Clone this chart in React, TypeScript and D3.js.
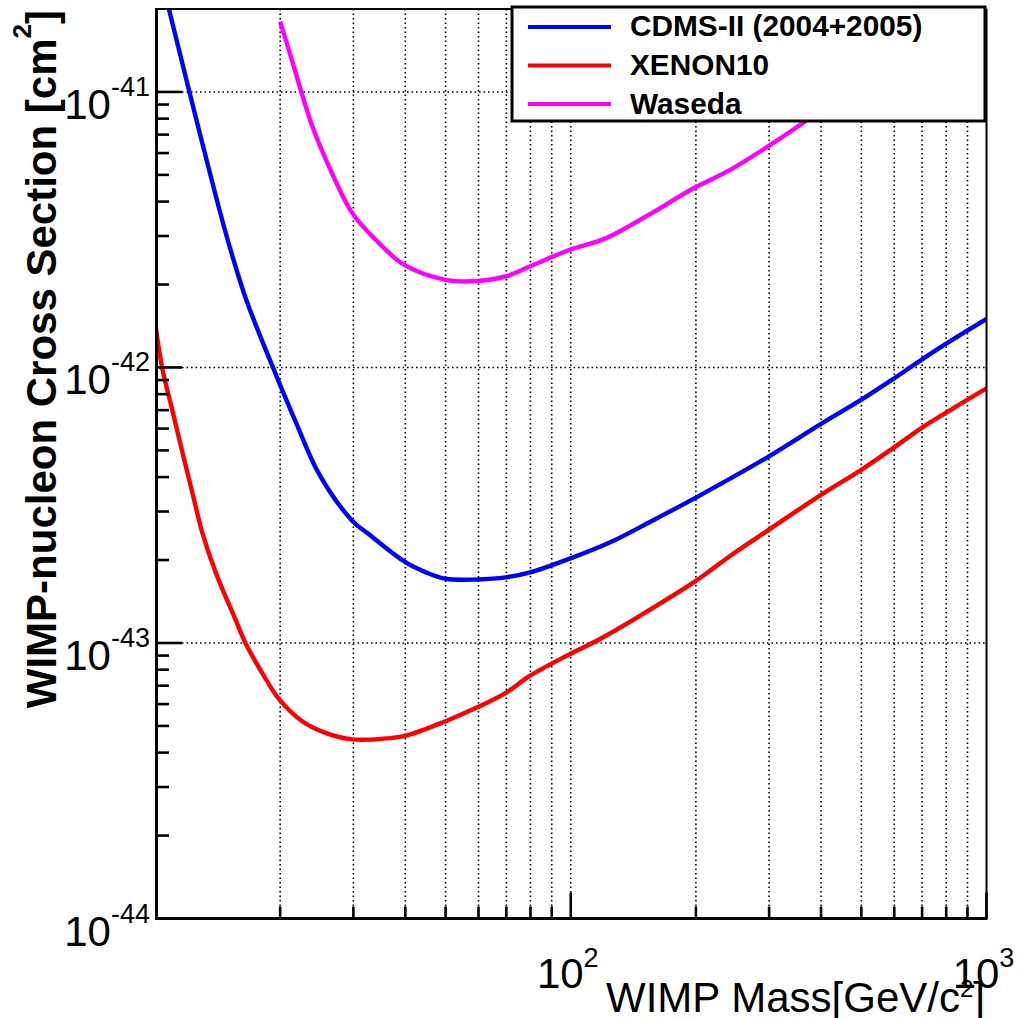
import React from "react";
import * as d3 from "d3";

// WIMP mass [GeV/c^2] and cross section [cm^2]
const cdmsMass = [10.5, 10.8, 12.1, 14.1, 15.2, 16.6, 19.6, 21.9, 24.8, 29.8, 32.7, 40.1, 45, 50, 59.5, 69.8, 79.4, 99.1, 126, 160, 200, 300, 400, 500, 600, 700, 800, 1000];
const cdmsSigma = [2.35e-41, 2.0e-41, 1.0e-41, 4.03e-42, 2.67e-42, 1.75e-42, 9.3e-43, 6.24e-43, 4.11e-43, 2.78e-43, 2.48e-43, 1.96e-43, 1.8e-43, 1.71e-43, 1.7e-43, 1.73e-43, 1.8e-43, 2.02e-43, 2.34e-43, 2.82e-43, 3.37e-43, 4.76e-43, 6.24e-43, 7.64e-43, 9.14e-43, 1.07e-42, 1.22e-42, 1.5e-42];

const xenonMass = [10, 10.4, 11.0, 11.6, 12.3, 13.0, 14.0, 15.6, 16.5, 18.1, 19.9, 22.6, 25.7, 29.8, 35.2, 40.1, 50, 59.6, 69.8, 79.4, 99.1, 117, 146, 200, 245, 300, 400, 500, 600, 700, 800, 1000];
const xenonSigma = [1.47e-42, 1.0e-42, 7.03e-43, 5.03e-43, 3.51e-43, 2.51e-43, 1.8e-43, 1.22e-43, 1.0e-43, 7.79e-44, 6.24e-44, 5.2e-44, 4.72e-44, 4.47e-44, 4.49e-44, 4.61e-44, 5.2e-44, 5.84e-44, 6.59e-44, 7.57e-44, 9.08e-44, 1.03e-43, 1.25e-43, 1.68e-43, 2.1e-43, 2.58e-43, 3.45e-43, 4.25e-43, 5.13e-43, 6.05e-43, 6.86e-43, 8.4e-43];

const wasedaMass = [20, 21.2, 22.4, 23.9, 26.2, 29.8, 34, 39.7, 50, 60, 69.8, 80, 99.1, 117, 126, 157, 198, 240, 300, 354, 400];
const wasedaSigma = [1.8e-41, 1.35e-41, 1.02e-41, 7.5e-42, 5.37e-42, 3.64e-42, 2.9e-42, 2.36e-42, 2.08e-42, 2.06e-42, 2.14e-42, 2.33e-42, 2.67e-42, 2.88e-42, 3.02e-42, 3.64e-42, 4.48e-42, 5.18e-42, 6.38e-42, 7.54e-42, 8.6e-42];

const seriesNames = ["CDMS-II (2004+2005)", "XENON10", "Waseda"];
const seriesColors = ["#0000ff", "#ff0000", "#ff00ff"];

const xLabelExps = ["2", "3"];
const yLabelExps = ["-44", "-43", "-42", "-41"];

const W = 1023,
	H = 1018;
const left = 155,
	right = 986.5,
	top = 9,
	bottom = 918.5;
const font = "'Liberation Sans', Arial, Helvetica, sans-serif";

const App = () => {
	const x = d3.scaleLog().domain([10, 1000]).range([left, right]);
	const y = d3.scaleLog().domain([1e-44, 2e-41]).range([bottom, top]);

	const line = d3
		.line()
		.x((d) => x(d[0]))
		.y((d) => y(d[1]))
		.curve(d3.curveCatmullRom.alpha(0.5));

	const series = [
		cdmsMass.map((m, i) => [m, cdmsSigma[i]]),
		xenonMass.map((m, i) => [m, xenonSigma[i]]),
		wasedaMass.map((m, i) => [m, wasedaSigma[i]]),
	];

	const isDecade = (v) => Math.abs(Math.log10(v) - Math.round(Math.log10(v))) < 1e-6;
	const xTicks = x.ticks().filter((t) => t > 10);
	const yTicks = y.ticks().filter((t) => t > 1e-44 * 1.0001 && t < 2e-41 * 0.999);
	const yDecades = y.ticks().filter(isDecade);
	const xDecades = x.ticks().filter(isDecade).filter((t) => t > 10);

	const dots = "1.6 2.9";

	return (
		<svg
			width={W}
			height={H}
			style={{ position: "absolute", left: 0, top: 0, background: "#fff" }}
			fontFamily={font}
		>
			<defs>
				<clipPath id="plot">
					<rect x={left} y={top} width={right - left} height={bottom - top} />
				</clipPath>
			</defs>

			{/* grid */}
			{xTicks
				.filter((t) => t < 1000)
				.map((t, i) => (
					<line key={"gx" + i} x1={x(t)} x2={x(t)} y1={top} y2={bottom} stroke="#000" strokeWidth={1.6} strokeDasharray={dots} />
				))}
			{yTicks.filter(isDecade).map((t, i) => (
				<line key={"gy" + i} x1={left} x2={right} y1={y(t)} y2={y(t)} stroke="#000" strokeWidth={1.6} strokeDasharray={dots} />
			))}

			{/* curves */}
			<g clipPath="url(#plot)">
				{series.map((s, i) => (
					<path key={i} d={line(s)} fill="none" stroke={seriesColors[i]} strokeWidth={4.4} strokeLinejoin="round" />
				))}
			</g>

			{/* frame */}
			<line x1={left} x2={right} y1={top} y2={top} stroke="#000" strokeWidth={2} />
			<line x1={right} x2={right} y1={top} y2={bottom} stroke="#000" strokeWidth={2} />
			<line x1={left + 1.5} x2={left + 1.5} y1={top - 1} y2={bottom + 1.5} stroke="#000" strokeWidth={3} />
			<line x1={left} x2={right + 1} y1={bottom} y2={bottom} stroke="#000" strokeWidth={3} />

			{/* y ticks */}
			{yTicks.map((t, i) => (
				<line key={"ty" + i} x1={left} x2={left + (isDecade(t) ? 27 : 14)} y1={y(t)} y2={y(t)} stroke="#000" strokeWidth={2.6} />
			))}
			{/* x ticks */}
			{xTicks.map((t, i) => (
				<line key={"tx" + i} x1={x(t)} x2={x(t)} y1={bottom} y2={bottom - (isDecade(t) ? 26 : 12)} stroke="#000" strokeWidth={2.6} />
			))}

			{/* y tick labels */}
			{yDecades.map((t, i) => (
				<text key={"ly" + i} x={150} y={y(t) + 27} textAnchor="end" fontSize={42}>
					10
					<tspan fontSize={27} dy={-23}>
						{yLabelExps[i]}
					</tspan>
				</text>
			))}
			{/* x tick labels */}
			{xDecades.map((t, i) => (
				<text key={"lx" + i} x={x(t) - 3} y={988} textAnchor="middle" fontSize={42}>
					10
					<tspan fontSize={27} dy={-21}>
						{xLabelExps[i]}
					</tspan>
				</text>
			))}

			{/* axis titles */}
			<text x={985} y={1012} textAnchor="end" fontSize={42}>
				WIMP Mass[GeV/c
				<tspan fontSize={24} dy={-15}>
					2
				</tspan>
				<tspan fontSize={42} dy={15}>
					]
				</tspan>
			</text>
			<text transform="translate(56,10) rotate(-90)" textAnchor="end" fontSize={42} fontWeight="bold">
				WIMP-nucleon Cross Section [cm
				<tspan fontSize={26} dy={-25}>
					2
				</tspan>
				<tspan fontSize={42} dy={25}>
					]
				</tspan>
			</text>

			{/* legend */}
			<rect x={512} y={7} width={473} height={114} fill="#fff" stroke="#000" strokeWidth={3} />
			{seriesNames.map((name, i) => (
				<g key={"lg" + i}>
					<line x1={528} x2={611} y1={27 + i * 38.5} y2={27 + i * 38.5} stroke={seriesColors[i]} strokeWidth={4.2} />
					<text x={630} y={36 + i * 38.8} fontSize={29.8} fontWeight="bold">
						{name}
					</text>
				</g>
			))}
		</svg>
	);
};

export default App;
